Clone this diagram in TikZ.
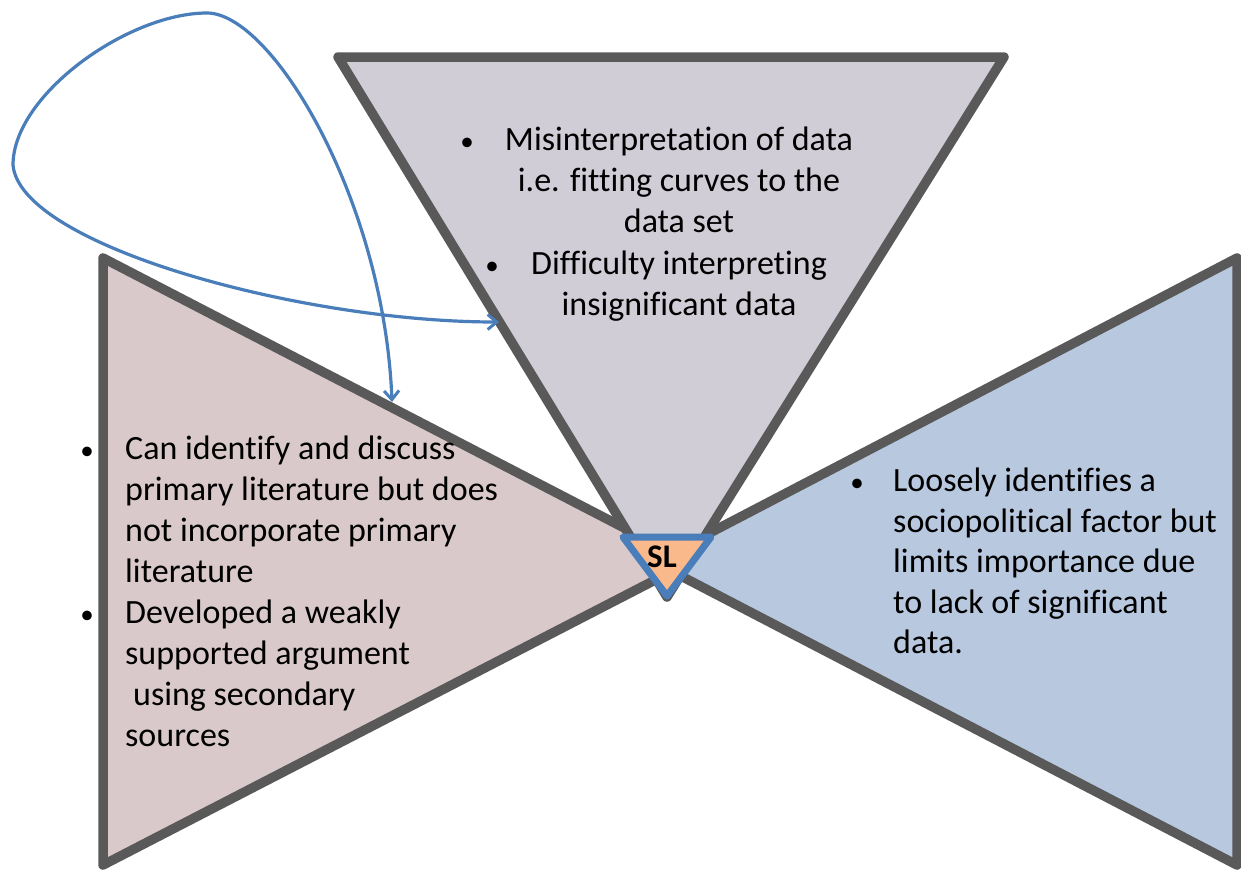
\documentclass[tikz,border=0pt]{standalone}
\usepackage{fontspec}
\setmainfont{Carlito}[Ligatures=NoCommon]
\usetikzlibrary{arrows.meta}
\definecolor{edgegray}{HTML}{595959}
\definecolor{topfill}{HTML}{D0CDD7}
\definecolor{leftfill}{HTML}{D9C9CA}
\definecolor{rightfill}{HTML}{B8C8DE}
\definecolor{slfill}{HTML}{F9B98B}
\definecolor{slblue}{HTML}{4A7EBB}
\begin{document}
\begin{tikzpicture}[x=1pt,y=-1pt,
  wedge/.style={draw=edgegray,line width=9.5pt,line join=round},
  txt/.style={font=\fontsize{34}{41}\selectfont,inner sep=0pt,anchor=base west},
  ctxt/.style={font=\fontsize{34}{41}\selectfont,inner sep=0pt,anchor=base},
  bul/.style={font=\fontsize{27}{41}\selectfont,inner sep=0pt,anchor=base},
  loop/.style={draw=slblue,line width=3.2pt,{Straight Barb[length=9pt,width=15pt,line width=3pt]}-{Straight Barb[length=9pt,width=15pt,line width=3pt]}}]
\useasboundingbox (0,0) rectangle (1241,873);

% corners of the three wedges
\coordinate (lt) at (103,258);
\coordinate (lb) at (103,865);
\coordinate (la) at (690,562);
\coordinate (rt) at (1237,258);
\coordinate (rb) at (1237,865);
\coordinate (ra) at (654,562);
\coordinate (tl) at (338,57);
\coordinate (tr) at (1004,57);
\coordinate (ta) at (667,597);

% side wedges first, the top wedge over them
\draw[wedge,fill=leftfill] (lt) -- (lb) -- (la) -- cycle;
\draw[wedge,fill=rightfill] (rt) -- (rb) -- (ra) -- cycle;
\draw[wedge,fill=topfill] (tl) -- (tr) -- (ta) -- cycle;

% SL marker at the meeting point
\coordinate (sa) at (623,537);
\coordinate (sb) at (711,537);
\coordinate (sc) at (667,596);
\draw[draw=slblue,line width=7pt,line join=round,fill=slfill] (sa) -- (sb) -- (sc) -- cycle;
\node[font=\fontsize{33}{34}\selectfont\bfseries,inner sep=0pt] (sl) at (662,557) {SL};

% top wedge text
\node[bul] (tb1) at (467,150) {•};
\node[bul] (tb2) at (492,274) {•};
\node[ctxt] (t1) at (679,150) {Misinterpretation of data};
\node[ctxt] (t2) at (679,191) {i.e. fitting curves to the};
\node[ctxt] (t3) at (679,232) {data set};
\node[ctxt] (t4) at (679,274) {Difficulty interpreting};
\node[ctxt] (t5) at (679,315) {insignificant data};

% left wedge text
\node[bul] (lb1) at (87,459) {•};
\node[bul] (lb2) at (87,623) {•};
\node[txt] (l1) at (125,459) {Can identify and discuss};
\node[txt] (l2) at (125,500) {primary literature but does};
\node[txt] (l3) at (125,541) {not incorporate primary};
\node[txt] (l4) at (125,582) {literature};
\node[txt] (l5) at (125,623) {Developed a weakly};
\node[txt] (l6) at (125,664) {supported argument};
\node[txt] (l7) at (133,705) {using secondary};
\node[txt] (l8) at (125,746) {sources};

% right wedge text
\node[bul] (rb1) at (857,491) {•};
\node[txt] (r1) at (893,491) {Loosely identifies a};
\node[txt] (r2) at (893,532) {sociopolitical factor but};
\node[txt] (r3) at (893,572) {limits importance due};
\node[txt] (r4) at (893,613) {to lack of significant};
\node[txt] (r5) at (893,653) {data.};

% looping two-headed connector
\coordinate (litTip) at (392,402);
\coordinate (dataTip) at (499,322);
\draw[loop] (litTip) .. controls (384,200) and (272,13) .. (207,13)
  .. controls (128,13) and (13,95) .. (13,165)
  .. controls (20,245) and (300,322) .. (dataTip);
\end{tikzpicture}
\end{document}
